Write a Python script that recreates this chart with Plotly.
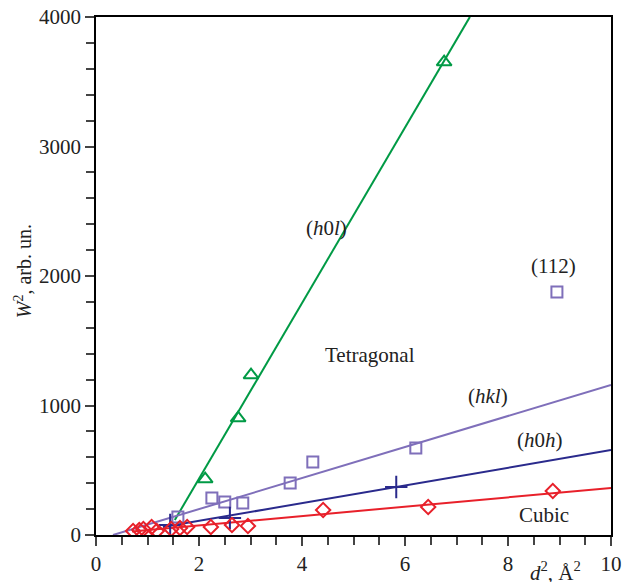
import plotly.graph_objects as go
import numpy as np

# Data
h0l_x = [2.12, 2.76, 3.01, 6.76]
h0l_y = [432, 903, 1235, 3652]

hkl_x = [1.59, 2.25, 2.50, 2.85, 3.77, 4.21, 6.21, 8.95]
hkl_y = [139, 286, 255, 247, 402, 564, 672, 1876]

h0h_x = [1.44, 2.60, 5.83]
h0h_y = [77, 131, 371]

cub_x = [0.72, 0.84, 0.92, 1.08, 1.18, 1.46, 1.63, 1.77, 2.23, 2.64, 2.95, 4.41, 6.45, 8.87]
cub_y = [31, 39, 46, 62, 31, 46, 54, 62, 62, 77, 69, 193, 216, 340]

# Fit lines: slope, intercept, x-start, x-end
fit_h0l = (678.0, 116 - 678.0 * 1.53, 1.53, 7.26)
fit_hkl = (119.8, -119.8 * 0.33, 0.33, 10.0)
fit_h0h = (68.3, -27.0, 1.30, 10.0)
fit_cub = (36.1, 2.0, 0.70, 10.0)

GREEN = "#009a45"
PURPLE = "#7f6fba"
NAVY = "#2a2a8c"
RED = "#e8202a"
FONT = "Liberation Serif, Times New Roman, serif"
TXT = "#222222"
FS = 21

fig = go.Figure()

def add_fit(fit, color):
    k, b, x0, x1 = fit
    xs = np.array([x0, x1])
    fig.add_trace(go.Scatter(x=xs, y=k * xs + b, mode="lines",
                             line=dict(color=color, width=2), showlegend=False,
                             hoverinfo="skip"))

add_fit(fit_h0l, GREEN)
add_fit(fit_hkl, PURPLE)
add_fit(fit_h0h, NAVY)
add_fit(fit_cub, RED)

fig.add_trace(go.Scatter(x=h0l_x, y=h0l_y, mode="markers",
                         marker=dict(symbol="triangle-up-open", size=13, color=GREEN,
                                     line=dict(width=2, color=GREEN)), showlegend=False))
fig.add_trace(go.Scatter(x=hkl_x, y=hkl_y, mode="markers",
                         marker=dict(symbol="square-open", size=11, color=PURPLE,
                                     line=dict(width=2, color=PURPLE)), showlegend=False))
fig.add_trace(go.Scatter(x=h0h_x, y=h0h_y, mode="markers",
                         marker=dict(symbol="cross-thin-open", size=16, color=NAVY,
                                     line=dict(width=2, color=NAVY)), showlegend=False))
fig.add_trace(go.Scatter(x=cub_x, y=cub_y, mode="markers",
                         marker=dict(symbol="diamond-open", size=11, color=RED,
                                     line=dict(width=2, color=RED)), showlegend=False))

labels = [
    ("(<i>h</i>0<i>l</i>)", 4.47, 2371),
    ("Tetragonal", 5.32, 1390),
    ("(<i>hkl</i>)", 7.61, 1073),
    ("(<i>h</i>0<i>h</i>)", 8.62, 734),
    ("Cubic", 8.70, 154),
    ("(112)", 8.89, 2077),
]
for t, x, y in labels:
    fig.add_annotation(x=x, y=y, text=t, showarrow=False,
                       xanchor="center", yanchor="middle",
                       font=dict(family=FONT, size=FS, color=TXT))

fig.add_annotation(xref="paper", yref="paper", x=0.893, y=-0.040,
                   xanchor="center", yanchor="top",
                   text="<i>d</i><sup>2</sup>, Å<sup>2</sup>", showarrow=False,
                   font=dict(family=FONT, size=FS, color=TXT))

fig.add_annotation(xref="paper", yref="paper", x=-0.143, y=0.51, textangle=-90,
                   xanchor="center", yanchor="middle",
                   text="<i>W</i><sup>2</sup>, arb. un.", showarrow=False,
                   font=dict(family=FONT, size=FS - 1, color=TXT))

tickfont = dict(family=FONT, size=FS, color=TXT)
fig.update_layout(
    width=622, height=582,
    margin=dict(l=96, r=11, t=17, b=47, autoexpand=False),
    plot_bgcolor="white", paper_bgcolor="white",
    font=dict(family=FONT, size=FS, color=TXT),
    xaxis=dict(range=[0, 10], dtick=2, ticks="outside", ticklen=9, tickwidth=1.5,
               tickfont=tickfont, automargin=False,
               showline=True, linecolor="black", linewidth=1.5, mirror=True,
               showgrid=False, zeroline=False,
               minor=dict(dtick=0.5, ticks="outside", ticklen=8, tickwidth=1.5, showgrid=False)),
    yaxis=dict(range=[0, 4000], dtick=1000, ticks="outside", ticklen=9, tickwidth=1.5,
               tickfont=tickfont, automargin=False,
               showline=True, linecolor="black", linewidth=1.5, mirror=True,
               showgrid=False, zeroline=False,
               minor=dict(dtick=200, ticks="outside", ticklen=8, tickwidth=1.5, showgrid=False)),
)

fig.write_html("out.html")
